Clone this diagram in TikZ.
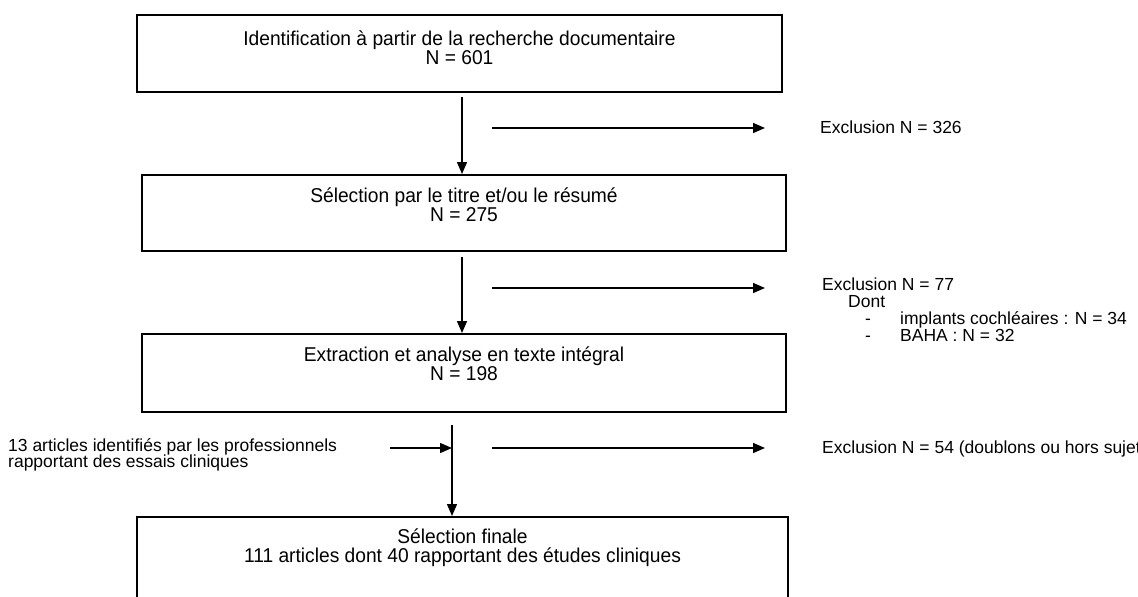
\documentclass[tikz,border=0pt]{standalone}
\usepackage{fontspec}
\setmainfont{Liberation Sans}
\newfontfamily\boxfont[FakeStretch=0.96]{Liberation Sans}
\usetikzlibrary{positioning, arrows.meta}

\tikzset{
    stagebox/.style={draw, line width=2pt, inner xsep=0pt, inner ysep=0pt, align=center,
                     font=\boxfont\fontsize{20}{18.5}\selectfont},
    flowarrow/.style={line width=1.4pt, -{Triangle[length=12pt, width=10pt]}},
    sidenote/.style={inner sep=0pt, align=left, font=\fontsize{17.5}{16.8}\selectfont},
}

\begin{document}
\begin{tikzpicture}[x=1pt, y=1pt]
        \useasboundingbox (0,0) rectangle (1138,-597);
        \clip (0,0) rectangle (1138,-597);

        % boxes of the flow
        \node[stagebox, minimum width=645pt, text height=49pt, text depth=28pt] (ident) at (459.5,-14) [anchor=north]
            {Identification à partir de la recherche documentaire\\N = 601};
        \node[stagebox, minimum width=644pt, text height=46pt, text depth=30pt] (titre) at (464,-174) [anchor=north]
            {Sélection par le titre et/ou le résumé\\N = 275};
        \node[stagebox, minimum width=644pt, text height=46pt, text depth=32pt] (texte) at (464,-333) [anchor=north]
            {Extraction et analyse en texte intégral\\N = 198};
        \node[stagebox, minimum width=651pt, text height=45pt, text depth=60pt] (finale) at (462.5,-516) [anchor=north]
            {Sélection finale\\111 articles dont 40 rapportant des études cliniques};

        % exclusions and extra source
        \node[sidenote, anchor=north west] (excA) at (820,-121) {Exclusion N = 326};
        \node[sidenote, anchor=north west] (excB) at (822,-278)
            {Exclusion N = 77\\
             \hspace*{26pt}Dont\\
             \hspace*{43pt}\makebox[35pt][l]{-}implants cochléaires : N = 34\\
             \hspace*{43pt}\makebox[35pt][l]{-}BAHA : N = 32};
        \node[sidenote, anchor=north west] (excC) at (822,-441) {Exclusion N = 54 (doublons ou hors sujet)};
        \node[sidenote, anchor=north west] (profs) at (8,-438)
            {13 articles identifiés par les professionnels\\rapportant des essais cliniques};

        % connectors
        \coordinate (downA) at (462,-97);
        \coordinate (downB) at (462,-257);
        \coordinate (downC) at (452,-425);
        \coordinate (merge) at (452,-448);
        \coordinate (sideA) at (492,-128);
        \coordinate (sideB) at (492,-288);
        \coordinate (sideC) at (492,-448);
        \coordinate (profsend) at (390,-448);

        \draw[flowarrow] (downA) -- (downA |- titre.north);
        \draw[flowarrow] (downB) -- (downB |- texte.north);
        \draw[flowarrow] (downC) -- (downC |- finale.north);
        \draw[flowarrow] (profsend) -- (merge);
        \draw[flowarrow] (sideA) -- ++(273,0);
        \draw[flowarrow] (sideB) -- ++(273,0);
        \draw[flowarrow] (sideC) -- ++(273,0);
    \end{tikzpicture}
\end{document}
